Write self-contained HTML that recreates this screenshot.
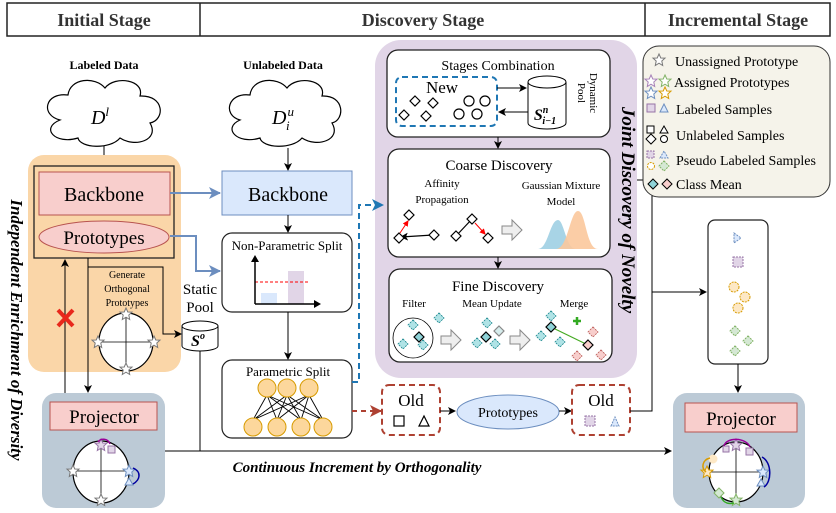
<!DOCTYPE html>
<html><head><meta charset="utf-8"><style>
body{margin:0;background:#fff}
svg{display:block;font-family:"Liberation Serif",serif}
</style></head><body>
<svg width="836" height="513" viewBox="0 0 836 513" xmlns="http://www.w3.org/2000/svg">
<defs>
<marker id="a" markerWidth="8" markerHeight="8" refX="7" refY="4" orient="auto" markerUnits="userSpaceOnUse"><path d="M0,0 L8,4 L0,8 L2,4Z" fill="#000"/></marker>
<marker id="ab" markerWidth="12" markerHeight="12" refX="11" refY="6" orient="auto" markerUnits="userSpaceOnUse"><path d="M0,0 L12,6 L0,12 L3,6Z" fill="#6c8ebf"/></marker>
<marker id="ad" markerWidth="12" markerHeight="12" refX="11" refY="6" orient="auto" markerUnits="userSpaceOnUse"><path d="M0,0 L12,6 L0,12 L3,6Z" fill="#1f77b4"/></marker>
<marker id="ar" markerWidth="12" markerHeight="12" refX="11" refY="6" orient="auto" markerUnits="userSpaceOnUse"><path d="M0,0 L12,6 L0,12 L3,6Z" fill="#ae4132"/></marker>
<marker id="rr" markerWidth="6" markerHeight="6" refX="5" refY="3" orient="auto" markerUnits="userSpaceOnUse"><path d="M0,0 L6,3 L0,6Z" fill="red"/></marker>
<g id="st"><path d="M0,-6 L1.8,-2 L6,-1.9 L2.8,1 L3.7,5.5 L0,3.2 L-3.7,5.5 L-2.8,1 L-6,-1.9 L-1.8,-2Z"/></g>
<g id="dm"><path d="M0,-5 L5,0 L0,5 L-5,0Z"/></g>
</defs>

<!-- header -->
<rect x="7" y="3" width="823" height="33" fill="#fff" stroke="#222" stroke-width="1.5"/>
<line x1="200" y1="3" x2="200" y2="36" stroke="#222" stroke-width="1.5"/>
<line x1="645" y1="3" x2="645" y2="36" stroke="#222" stroke-width="1.5"/>
<g font-weight="bold" font-size="18" fill="#333" text-anchor="middle">
<text x="104" y="26">Initial Stage</text><text x="423" y="26">Discovery Stage</text><text x="738" y="26">Incremental Stage</text></g>

<!-- vertical texts -->
<text transform="translate(11,330) rotate(90)" text-anchor="middle" font-size="17" font-weight="bold" font-style="italic">Independent Enrichment of Diversity</text>

<!-- labeled data -->
<text x="104" y="69" text-anchor="middle" font-weight="bold" font-size="12">Labeled Data</text>
<path d="M60,120 C40,115 45,92 68,95 C70,78 95,76 105,88 C115,75 145,80 140,96 C165,95 165,120 150,123 C160,140 135,148 120,138 C110,150 80,148 78,138 C55,145 40,128 60,120Z" fill="#fff" stroke="#000" stroke-width="1.2"/>
<text x="100" y="124" text-anchor="middle" font-size="20" font-style="italic">D<tspan font-size="13" dy="-8">l</tspan></text>
<line x1="104" y1="146" x2="104" y2="165" stroke="#000" marker-end="url(#a)"/>

<rect x="28" y="155" width="153" height="217" rx="16" fill="#fad6a8"/>
<rect x="34" y="166" width="140" height="92" fill="none" stroke="#222" stroke-width="1.3"/>
<rect x="39" y="172" width="131" height="43" fill="#f8cecc" stroke="#b85450"/>
<text x="104" y="201" text-anchor="middle" font-size="20">Backbone</text>
<ellipse cx="104" cy="237" rx="65" ry="16" fill="#f8cecc" stroke="#b85450"/>
<text x="104" y="244" text-anchor="middle" font-size="19">Prototypes</text>

<g font-size="10" text-anchor="middle"><text x="127" y="278">Generate</text><text x="127" y="292">Orthogonal</text><text x="127" y="306">Prototypes</text></g>
<ellipse cx="126" cy="342" rx="27" ry="29" fill="#fff" stroke="#000" stroke-width="1.2"/>
<line x1="99" y1="342" x2="153" y2="342" stroke="#000" stroke-width=".8"/><line x1="126" y1="313" x2="126" y2="371" stroke="#000" stroke-width=".8"/>
<g fill="#fff" stroke="#777"><use href="#st" x="126" y="314"/><use href="#st" x="126" y="369"/><use href="#st" x="98" y="342"/><use href="#st" x="154" y="342"/></g>

<line x1="65" y1="400" x2="65" y2="260" stroke="#000" marker-end="url(#a)"/>
<path d="M58,310 L73,326 M73,310 L58,326" stroke="#e8281c" stroke-width="4"/>
<line x1="88" y1="258" x2="88" y2="392" stroke="#000" marker-end="url(#a)"/>
<path d="M88,267 H163 V334 H181" fill="none" stroke="#000" marker-end="url(#a)"/>

<g font-size="15" text-anchor="middle"><text x="200" y="294">Static</text><text x="200" y="312">Pool</text></g>
<path d="M182,326 V346 A18,5 0 0 0 218,346 V326" fill="#fff" stroke="#000"/>
<ellipse cx="200" cy="326" rx="18" ry="5" fill="#fff" stroke="#000"/>
<text x="198" y="346" text-anchor="middle" font-size="16" font-style="italic" font-weight="bold">S<tspan font-size="10" dy="-7">o</tspan></text>
<line x1="200" y1="351" x2="200" y2="451" stroke="#000"/>

<!-- unlabeled -->
<text x="283" y="69" text-anchor="middle" font-weight="bold" font-size="12">Unlabeled Data</text>
<path d="M240,120 C222,115 228,92 250,95 C252,78 277,76 287,88 C297,75 327,80 322,96 C345,95 345,120 332,123 C342,140 317,148 302,138 C292,150 262,148 260,138 C237,145 222,128 240,120Z" fill="#fff" stroke="#000" stroke-width="1.2"/>
<text x="283" y="124" text-anchor="middle" font-size="20" font-style="italic">D<tspan font-size="13" dx="1" dy="-8">u</tspan><tspan font-size="13" dx="-8" dy="14">i</tspan></text>
<line x1="288" y1="148" x2="288" y2="170" stroke="#000" marker-end="url(#a)"/>
<rect x="222" y="171" width="130" height="44" fill="#dae8fc" stroke="#6c8ebf"/>
<text x="288" y="201" text-anchor="middle" font-size="20">Backbone</text>
<line x1="170" y1="193" x2="220" y2="193" stroke="#6c8ebf" stroke-width="2" marker-end="url(#ab)"/>
<path d="M170,236 H196 V271 H220" fill="none" stroke="#6c8ebf" stroke-width="2" marker-end="url(#ab)"/>
<line x1="288" y1="215" x2="288" y2="232" stroke="#000" marker-end="url(#a)"/>

<rect x="222" y="233" width="130" height="79" rx="10" fill="#fff" stroke="#222" stroke-width="1.2"/>
<text x="287" y="250" text-anchor="middle" font-size="13">Non-Parametric Split</text>
<rect x="261" y="293" width="16" height="11" fill="#dae8fc"/>
<rect x="288" y="271" width="16" height="33" fill="#e1d5e7"/>
<line x1="255" y1="282" x2="310" y2="282" stroke="red" stroke-dasharray="3,2"/>
<path d="M255,304 V258 M255,304 H318" fill="none" stroke="#000" stroke-width="1.5"/>
<path d="M251,262 L255,255 L259,262Z M314,300 L321,304 L314,308Z"/>
<line x1="288" y1="312" x2="288" y2="359" stroke="#000" marker-end="url(#a)"/>

<rect x="222" y="360" width="130" height="78" rx="10" fill="#fff" stroke="#222" stroke-width="1.2"/>
<text x="288" y="376" text-anchor="middle" font-size="13">Parametric Split</text>
<g stroke="#000" stroke-width=".9">
<path d="M267,395 L253,420 M267,395 L277,420 M267,395 L301,420 M267,395 L323,420 M287,395 L253,420 M287,395 L277,420 M287,395 L301,420 M287,395 L323,420 M309,395 L253,420 M309,395 L277,420 M309,395 L301,420 M309,395 L323,420"/></g>
<g fill="#fcd79c" stroke="#d79b00"><circle cx="267" cy="388" r="9"/><circle cx="287" cy="388" r="9"/><circle cx="309" cy="388" r="9"/><circle cx="253" cy="427" r="9"/><circle cx="277" cy="427" r="9"/><circle cx="301" cy="427" r="9"/><circle cx="323" cy="427" r="9"/></g>

<line x1="352" y1="411" x2="381" y2="411" stroke="#ae4132" stroke-width="2" stroke-dasharray="5,4" marker-end="url(#ar)"/>

<!-- purple region -->
<rect x="375" y="40" width="262" height="338" rx="26" fill="#e1d5e7"/>
<path d="M352,382 H359 V205 H383" fill="none" stroke="#1f77b4" stroke-width="2" stroke-dasharray="6,4" marker-end="url(#ad)"/>
<text transform="translate(622,210) rotate(90)" text-anchor="middle" font-size="19" font-weight="bold" font-style="italic">Joint Discovery of Novelty</text>

<rect x="387" y="50" width="223" height="87" rx="11" fill="#fff" stroke="#222" stroke-width="1.3"/>
<text x="498" y="70" text-anchor="middle" font-size="14">Stages Combination</text>
<rect x="396" y="77" width="101" height="49" rx="6" fill="none" stroke="#1f77b4" stroke-width="2" stroke-dasharray="6,4"/>
<text x="442" y="93" text-anchor="middle" font-size="17">New</text>
<g fill="#fff" stroke="#000" stroke-width="1.2"><use href="#dm" x="415" y="101"/><use href="#dm" x="433" y="103"/><use href="#dm" x="404" y="115"/><use href="#dm" x="426" y="116"/>
<circle cx="469" cy="101" r="5"/><circle cx="485" cy="101" r="5"/><circle cx="459" cy="114" r="5"/><circle cx="477" cy="114" r="5"/></g>
<line x1="497" y1="88" x2="526" y2="88" stroke="#000" marker-end="url(#a)"/>
<line x1="528" y1="112" x2="499" y2="112" stroke="#000" marker-end="url(#a)"/>
<path d="M528,82 V123 A19,6 0 0 0 566,123 V82" fill="#fff" stroke="#000"/>
<ellipse cx="547" cy="82" rx="19" ry="6" fill="#fff" stroke="#000"/>
<text x="545" y="120" text-anchor="middle" font-size="16" font-style="italic" font-weight="bold">S<tspan font-size="10" dy="-7">n</tspan><tspan font-size="10" dx="-6" dy="11">i−1</tspan></text>
<text transform="translate(590,93) rotate(90)" text-anchor="middle" font-size="11"><tspan x="0" dy="0">Dynamic</tspan><tspan x="0" dy="12">Pool</tspan></text>
<line x1="498" y1="137" x2="498" y2="148" stroke="#000" marker-end="url(#a)"/>

<rect x="388" y="149" width="222" height="108" rx="11" fill="#fff" stroke="#222" stroke-width="1.3"/>
<text x="499" y="170" text-anchor="middle" font-size="15">Coarse Discovery</text>
<g font-size="11" text-anchor="middle"><text x="442" y="187">Affinity</text><text x="442" y="203">Propagation</text><text x="561" y="189">Gaussian Mixture</text><text x="561" y="205">Model</text></g>
<g fill="#fff" stroke="#000" stroke-width="1.2">
<line x1="433" y1="235" x2="401" y2="237" marker-end="url(#a)"/>
<use href="#dm" x="409" y="215"/><use href="#dm" x="399" y="238"/><use href="#dm" x="434" y="235"/>
<line x1="456" y1="236" x2="472" y2="219"/>
<use href="#dm" x="472" y="219"/><use href="#dm" x="456" y="236"/><use href="#dm" x="488" y="238"/></g>
<line x1="400" y1="233" x2="408" y2="221" stroke="red" marker-end="url(#rr)"/>
<line x1="475" y1="223" x2="485" y2="234" stroke="red" marker-end="url(#rr)"/>
<path d="M502,226 H512 V220 L522,230 L512,240 V234 H502Z" fill="#eee" stroke="#888"/>
<path d="M538,249 C548,249 550,220 558,220 C564,220 566,249 576,249Z" fill="#a8d4e6"/>
<path d="M556,249 C568,249 570,211 578,211 C586,211 586,249 598,249Z" fill="#fbc89c" opacity=".9"/>
<line x1="498" y1="257" x2="498" y2="268" stroke="#000" marker-end="url(#a)"/>

<rect x="389" y="269" width="223" height="93" rx="11" fill="#fff" stroke="#222" stroke-width="1.3"/>
<text x="498" y="291" text-anchor="middle" font-size="15">Fine Discovery</text>
<g font-size="11" text-anchor="middle"><text x="414" y="307">Filter</text><text x="492" y="307">Mean Update</text><text x="574" y="307">Merge</text></g>
<circle cx="413" cy="338" r="20" fill="#fff" stroke="#000" stroke-width=".8"/>
<g fill="#b0e3e6" stroke="#0e8088" stroke-width=".8" stroke-dasharray="2,1">
<use href="#dm" x="439" y="318"/><use href="#dm" x="413" y="325"/><use href="#dm" x="403" y="344"/><use href="#dm" x="423" y="345"/>
<use href="#dm" x="487" y="323"/><use href="#dm" x="477" y="343"/><use href="#dm" x="495" y="344"/>
<use href="#dm" x="551" y="316"/><use href="#dm" x="541" y="336"/><use href="#dm" x="560" y="342"/></g>
<g fill="#f8cecc" stroke="#b85450" stroke-width=".8" stroke-dasharray="2,1"><use href="#dm" x="593" y="332"/><use href="#dm" x="577" y="356"/><use href="#dm" x="601" y="355"/></g>
<g stroke="#000" stroke-width="1.2"><use href="#dm" x="419" y="337" fill="#8fd3d8"/><use href="#dm" x="486" y="337" fill="#8fd3d8"/><use href="#dm" x="499" y="331" fill="#d6ecec" stroke="#888"/>
<line x1="551" y1="327" x2="588" y2="345" stroke="#4a2" stroke-width="1.2"/>
<use href="#dm" x="551" y="327" fill="#8fd3d8"/><use href="#dm" x="588" y="345" fill="#f8cecc"/></g>
<path d="M573,321 h8 M577,317 v8" stroke="#3a2" stroke-width="2.5"/>
<path d="M441,336 H451 V330 L461,340 L451,350 V344 H441Z" fill="#eee" stroke="#888"/>
<path d="M510,336 H520 V330 L530,340 L520,350 V344 H510Z" fill="#eee" stroke="#888"/>

<!-- old / prototypes -->
<rect x="382" y="385" width="58" height="50" rx="7" fill="#fff" stroke="#ae4132" stroke-width="2" stroke-dasharray="6,4"/>
<text x="411" y="406" text-anchor="middle" font-size="17">Old</text>
<rect x="394" y="416" width="10" height="10" fill="none" stroke="#000" stroke-width="1.2"/><path d="M419,426 L424,416 L429,426Z" fill="none" stroke="#000" stroke-width="1.2"/>
<line x1="440" y1="411" x2="455" y2="411" stroke="#000" marker-end="url(#a)"/>
<ellipse cx="508" cy="412" rx="51" ry="17" fill="#dae8fc" stroke="#6c8ebf"/>
<text x="508" y="417" text-anchor="middle" font-size="14">Prototypes</text>
<line x1="559" y1="411" x2="571" y2="411" stroke="#000" marker-end="url(#a)"/>
<rect x="572" y="385" width="58" height="50" rx="7" fill="#fff" stroke="#ae4132" stroke-width="2" stroke-dasharray="6,4"/>
<text x="601" y="406" text-anchor="middle" font-size="17">Old</text>
<rect x="585" y="416" width="10" height="10" fill="#e1d5e7" stroke="#9673a6" stroke-dasharray="2,1"/><path d="M611,426 L615,417 L619,426Z" fill="#dae8fc" stroke="#6c8ebf" stroke-dasharray="2,1"/>
<path d="M630,411 H652 V180 H637" fill="none" stroke="#000"/>
<line x1="652" y1="292" x2="706" y2="292" stroke="#000" marker-end="url(#a)"/>

<!-- legend -->
<rect x="643" y="46" width="187" height="151" rx="16" fill="#f5f3ea" stroke="#333"/>
<g font-size="14"><text x="675" y="66">Unassigned Prototype</text><text x="674" y="87">Assigned Prototypes</text><text x="676" y="114">Labeled Samples</text><text x="676" y="140">Unlabeled Samples</text><text x="676" y="165">Pseudo Labeled Samples</text><text x="676" y="189">Class Mean</text></g>
<use href="#st" x="659" y="60" fill="#fff" stroke="#777"/>
<use href="#st" x="651" y="81" fill="#fff" stroke="#a680b8"/><use href="#st" x="665" y="81" fill="#fff" stroke="#82b366"/>
<use href="#st" x="651" y="93" fill="#fff" stroke="#6c8ebf"/><use href="#st" x="665" y="93" fill="#fff" stroke="#d79b00"/>
<rect x="647" y="104" width="8" height="8" fill="#e1d5e7" stroke="#9673a6"/><path d="M660,112 L664,104 L668,112Z" fill="#dae8fc" stroke="#6c8ebf"/>
<g fill="#fff" stroke="#000"><rect x="647" y="126" width="7" height="7"/><path d="M660,133 L664,126 L668,133Z"/><use href="#dm" x="651" y="139"/><circle cx="664" cy="139" r="3.5"/></g>
<g stroke-dasharray="2,1"><rect x="647" y="151" width="7" height="7" fill="#e1d5e7" stroke="#9673a6"/><path d="M660,158 L664,151 L668,158Z" fill="#dae8fc" stroke="#6c8ebf"/><circle cx="651" cy="166" r="3.5" fill="#fff" stroke="#d79b00"/><use href="#dm" x="664" y="166" fill="#d5e8d4" stroke="#82b366"/></g>
<use href="#dm" x="653" y="184" fill="#8fd3d8" stroke="#000"/><use href="#dm" x="667" y="184" fill="#f8cecc" stroke="#000"/>

<!-- right sample box -->
<rect x="708" y="220" width="60" height="144" rx="7" fill="#fff" stroke="#222" stroke-width="1.2"/>
<g stroke-dasharray="2,1">
<path d="M734,233 L741,238 L734,243Z" fill="#dae8fc" stroke="#6c8ebf"/>
<rect x="733" y="257" width="10" height="10" fill="#e1d5e7" stroke="#9673a6"/>
<circle cx="734" cy="287" r="5" fill="#fde8c5" stroke="#d79b00"/><circle cx="745" cy="297" r="5" fill="#fde8c5" stroke="#d79b00"/><circle cx="738" cy="308" r="5" fill="#fde8c5" stroke="#d79b00"/>
<use href="#dm" x="735" y="331" fill="#d5e8d4" stroke="#82b366"/><use href="#dm" x="748" y="341" fill="#d5e8d4" stroke="#82b366"/><use href="#dm" x="735" y="351" fill="#d5e8d4" stroke="#82b366"/></g>
<line x1="738" y1="364" x2="738" y2="392" stroke="#000" marker-end="url(#a)"/>

<!-- left projector -->
<rect x="42" y="393" width="123" height="115" rx="14" fill="#bccad6"/>
<rect x="50" y="402" width="107" height="28" fill="#f8cecc" stroke="#b85450"/>
<text x="104" y="423" text-anchor="middle" font-size="19">Projector</text>
<ellipse cx="101" cy="472" rx="28" ry="31" fill="#fff" stroke="#000" stroke-width="1.2"/>
<line x1="73" y1="471" x2="130" y2="471" stroke="#000" stroke-width=".8"/><line x1="101" y1="441" x2="101" y2="503" stroke="#000" stroke-width=".8"/>
<use href="#st" x="101" y="445" fill="#e1d5e7" stroke="#9673a6"/><rect x="108" y="446" width="7" height="7" fill="#e1d5e7" stroke="#9673a6"/>
<use href="#st" x="73" y="471" fill="#fff" stroke="#777"/><use href="#st" x="101" y="500" fill="#fff" stroke="#777"/>
<use href="#st" x="129" y="471" fill="#dae8fc" stroke="#6c8ebf"/><path d="M125,485 L129,478 L133,485Z" fill="#dae8fc" stroke="#6c8ebf"/>
<path d="M133,468 C142,472 140,480 133,484" fill="none" stroke="#0000a0" stroke-width="1.5"/>
<path d="M110,444 C108,438 100,438 98,442" fill="none" stroke="#909" stroke-width="1.5"/>

<line x1="165" y1="451" x2="671" y2="451" stroke="#000" marker-end="url(#a)"/>
<text x="357" y="472" text-anchor="middle" font-size="15" font-weight="bold" font-style="italic">Continuous Increment by Orthogonality</text>

<!-- right projector -->
<rect x="673" y="393" width="132" height="115" rx="14" fill="#bccad6"/>
<rect x="685" y="403" width="112" height="29" fill="#f8cecc" stroke="#b85450"/>
<text x="741" y="425" text-anchor="middle" font-size="19">Projector</text>
<ellipse cx="736" cy="472" rx="27" ry="30" fill="#fff" stroke="#000" stroke-width="1.2"/>
<line x1="709" y1="472" x2="763" y2="472" stroke="#000" stroke-width=".8"/><line x1="736" y1="442" x2="736" y2="502" stroke="#000" stroke-width=".8"/>
<use href="#st" x="736" y="445" fill="#e1d5e7" stroke="#9673a6"/><rect x="723" y="446" width="6" height="6" fill="#e1d5e7" stroke="#9673a6"/><rect x="746" y="448" width="7" height="7" fill="#e1d5e7" stroke="#9673a6"/>
<path d="M724,446 C726,437 746,437 750,447" fill="none" stroke="#909" stroke-width="1.5"/>
<use href="#st" x="707" y="472" fill="#fde8c5" stroke="#d79b00"/><circle cx="713" cy="459" r="4" fill="#fde8c5" stroke="#fde8c5"/>
<path d="M710,458 C702,460 701,468 706,472" fill="none" stroke="#d79b00" stroke-width="1.5"/>
<use href="#st" x="763" y="472" fill="#dae8fc" stroke="#6c8ebf"/><path d="M757,486 L761,479 L765,486Z" fill="#dae8fc" stroke="#6c8ebf"/>
<path d="M762,457 C772,462 772,482 764,487" fill="none" stroke="#0000a0" stroke-width="1.5"/>
<use href="#st" x="736" y="500" fill="#d5e8d4" stroke="#82b366"/><use href="#dm" x="719" y="493" fill="#d5e8d4" stroke="#82b366"/>
<path d="M721,497 C724,504 730,504 734,503" fill="none" stroke="#3a2" stroke-width="1.5"/>
</svg>
</body></html>
